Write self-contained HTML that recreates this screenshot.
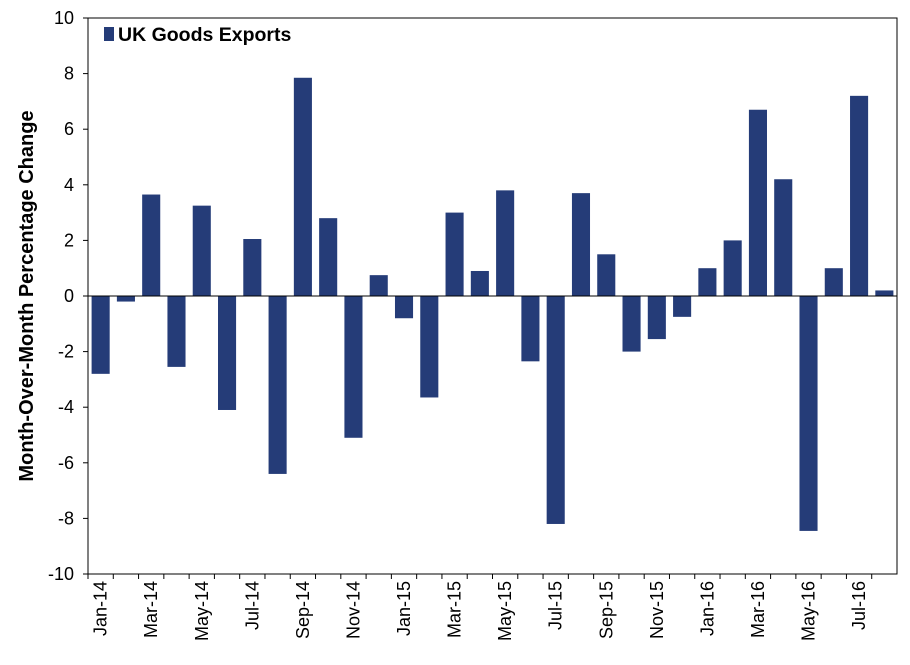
<!DOCTYPE html>
<html><head><meta charset="utf-8"><style>
body{margin:0;background:#fff;font-family:"Liberation Sans",Arial,sans-serif}
svg text{font-family:"Liberation Sans",Arial,sans-serif}
</style></head><body>
<svg id="chart" width="910" height="660"></svg>
<script>
const categories=["Jan-14","Feb-14","Mar-14","Apr-14","May-14","Jun-14","Jul-14","Aug-14","Sep-14","Oct-14","Nov-14","Dec-14","Jan-15","Feb-15","Mar-15","Apr-15","May-15","Jun-15","Jul-15","Aug-15","Sep-15","Oct-15","Nov-15","Dec-15","Jan-16","Feb-16","Mar-16","Apr-16","May-16","Jun-16","Jul-16","Aug-16"];
const values=[-2.8,-0.2,3.65,-2.55,3.25,-4.1,2.05,-6.4,7.85,2.8,-5.1,0.75,-0.8,-3.65,3.0,0.9,3.8,-2.35,-8.2,3.7,1.5,-2.0,-1.55,-0.75,1.0,2.0,6.7,4.2,-8.45,1.0,7.2,0.2];
const yTicks=[-10,-8,-6,-4,-2,0,2,4,6,8,10];
const NS="http://www.w3.org/2000/svg";
const svg=document.getElementById("chart");
const L=88,R=897,T=18,B=574;
const y=v=>T+(10-v)/20*(B-T);
const step=(R-L)/categories.length;
const x=i=>L+step*i;
function mk(tag,attrs){const e=document.createElementNS(NS,tag);for(const k in attrs)e.setAttribute(k,attrs[k]);svg.appendChild(e);return e;}
const frame=mk("rect",{x:L,y:T,width:R-L,height:B-T,fill:"none",stroke:"#000","stroke-width":1});


yTicks.forEach(t=>{
  const tk=mk("line",{x1:L-5,x2:L,y1:y(t),y2:y(t),stroke:"#000"});
  
  
  const tx=mk("text",{x:L-14,y:y(t)+6,"text-anchor":"end","font-size":18});
  tx.textContent=t;
  
  
});
values.forEach((v,i)=>{
  const b=mk("rect",{x:x(i)+3.6,width:step-7.2,y:Math.min(y(v),y(0)),height:Math.abs(y(v)-y(0)),fill:"#253C78"});
  
  
});
const z=mk("line",{x1:L,x2:R,y1:y(0),y2:y(0),stroke:"#000"});


categories.forEach((c,i)=>{
  const tk=mk("line",{x1:x(i),x2:x(i),y1:B,y2:B+5,stroke:"#000"});
  
  
  if(i%2===0){
    const cx=x(i)+step/2+6;
    const tx=mk("text",{x:cx,y:B+7,"text-anchor":"end","font-size":18,transform:`rotate(-90 ${cx} ${B+7})`});
    tx.textContent=c;
    
    
  }
});
const yt=mk("text",{x:33,y:(T+B)/2,"text-anchor":"middle","font-size":20,"font-weight":"bold",transform:`rotate(-90 33 ${(T+B)/2})`});
yt.textContent="Month-Over-Month Percentage Change";


const ls=mk("rect",{x:104,y:27,width:10,height:14,fill:"#253C78"});


const lt=mk("text",{x:118,y:41,"font-size":19.5,"font-weight":"bold"});
lt.textContent="UK Goods Exports";


</script>
</body></html>
